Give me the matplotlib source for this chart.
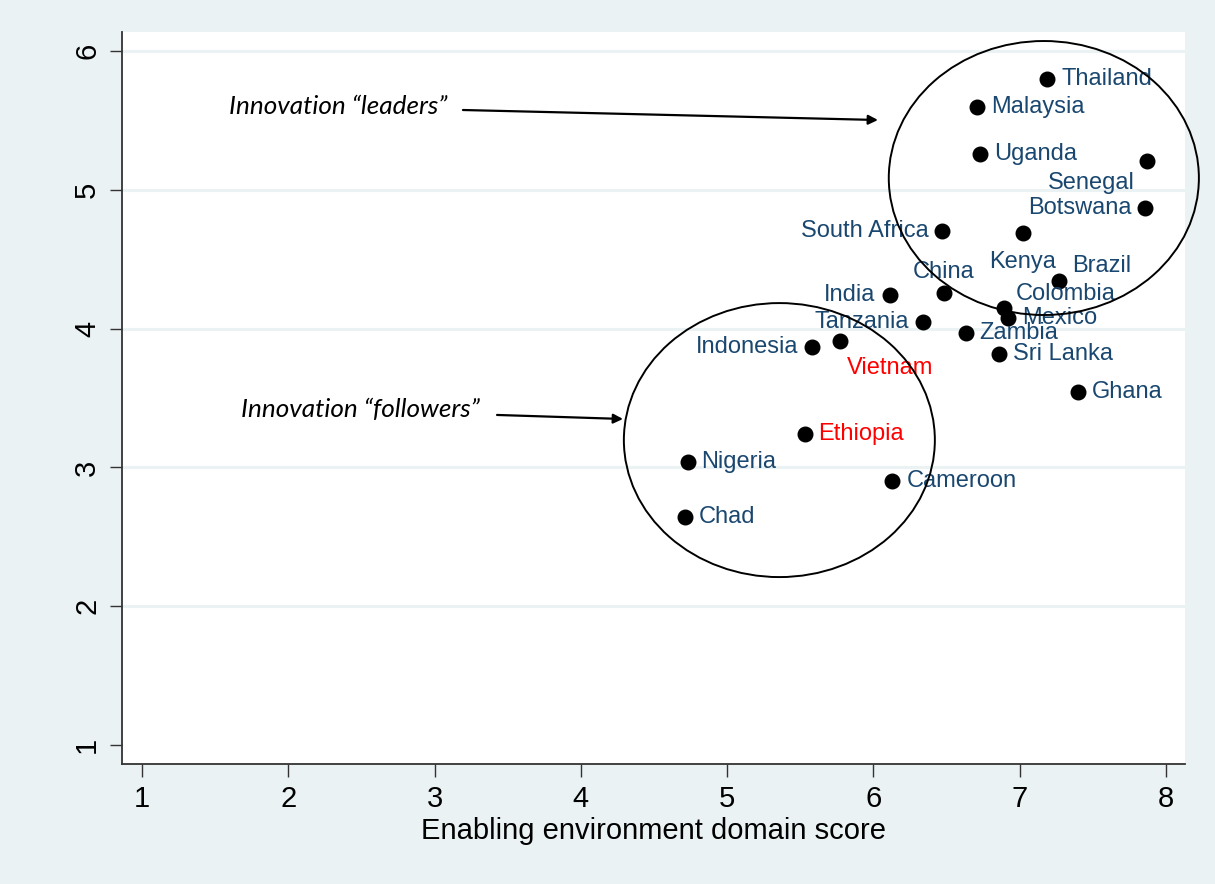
import matplotlib
matplotlib.use("Agg")
import matplotlib.pyplot as plt
from matplotlib.patches import Ellipse

# country scores
countries = ["Thailand", "Malaysia", "Uganda", "Senegal", "Botswana", "South Africa",
             "Kenya", "Brazil", "China", "India", "Colombia", "Mexico", "Tanzania",
             "Zambia", "Indonesia", "Vietnam", "Sri Lanka", "Ghana", "Ethiopia",
             "Nigeria", "Cameroon", "Chad"]
enabling = [7.19, 6.71, 6.73, 7.87, 7.86, 6.47, 7.02, 7.27, 6.48, 6.11, 6.89, 6.92,
            6.34, 6.63, 5.58, 5.77, 6.86, 7.40, 5.53, 4.73, 6.13, 4.71]
innovation = [5.80, 5.60, 5.26, 5.21, 4.87, 4.70, 4.69, 4.34, 4.26, 4.24, 4.15, 4.08,
              4.05, 3.97, 3.87, 3.91, 3.82, 3.54, 3.24, 3.04, 2.90, 2.64]
highlight = ["Vietnam", "Ethiopia"]

xticks = [1, 2, 3, 4, 5, 6, 7, 8]
yticks = [1, 2, 3, 4, 5, 6]

# label placement (offset in points, alignment) like stata's mlabvpos
R = (10, 0, "left")
L = (-10, 0, "right")
label_pos = {c: R for c in countries}
label_pos.update({
    "Senegal": (-8.5, -16, "right"),
    "Botswana": L, "South Africa": L, "India": L, "Tanzania": L, "Indonesia": L,
    "Kenya": (0, -21, "center"),
    "Brazil": (9.5, 11, "left"),
    "China": (0, 14.5, "center"),
    "Colombia": (8.5, 10, "left"),
    "Vietnam": (5, -19, "left"),
})

bg = "#eaf2f3"
navy = "#1a476f"

fig = plt.figure(figsize=(12.15, 8.84), dpi=100, facecolor=bg)
ax = fig.add_axes([0.1004, 0.1357, 0.8749, 0.8281])
ax.set_facecolor("white")

ax.set_xlim(0.863, 8.13)
ax.set_ylim(0.863, 6.137)

for g in yticks[1:]:
    ax.axhline(g, color=bg, lw=2.2, zorder=0)

ax.scatter(enabling, innovation, s=110, color="black", zorder=3)

for name, x, y in zip(countries, enabling, innovation):
    dx, dy, ha = label_pos[name]
    col = "red" if name in highlight else navy
    ax.annotate(name, (x, y), xytext=(dx, dy), textcoords="offset points",
                ha=ha, va="center", fontsize=17, color=col,
                family="Liberation Sans", zorder=4)

# the two groups
ax.add_patch(Ellipse((7.165, 5.085), 2.12, 1.974, fill=False, ec="black",
                     lw=1.4, clip_on=False, zorder=5))
ax.add_patch(Ellipse((5.357, 3.197), 2.126, 1.974, fill=False, ec="black",
                     lw=1.4, clip_on=False, zorder=5))

arrow = dict(arrowstyle="-|>", color="black", lw=1.6, mutation_scale=14,
             shrinkA=0, shrinkB=0)
ax.annotate("", xy=(6.031, 5.503), xytext=(3.194, 5.575), arrowprops=arrow)
ax.annotate("", xy=(4.288, 3.349), xytext=(3.427, 3.378), arrowprops=arrow)
ax.text(3.085, 5.597, "Innovation \u201cleaders\u201d", ha="right", va="center",
        fontsize=18.8, style="italic", family="Lato")
ax.text(3.31, 3.414, "Innovation \u201cfollowers\u201d", ha="right", va="center",
        fontsize=18.8, style="italic", family="Lato")

for s in ["top", "right"]:
    ax.spines[s].set_visible(False)
for s in ["left", "bottom"]:
    ax.spines[s].set_color("#333333")
    ax.spines[s].set_linewidth(1.3)

ax.set_xticks(xticks)
ax.set_yticks(yticks)
ax.tick_params(axis="both", length=9, width=1, color="#333333", labelsize=21, pad=6)
for lab in ax.get_yticklabels():
    lab.set_rotation(90)
    lab.set_va("center")
for lab in ax.get_xticklabels() + ax.get_yticklabels():
    lab.set_family("Liberation Sans")

ax.set_xlabel("Enabling environment domain score", fontsize=21,
              family="Liberation Sans", labelpad=3)

fig.savefig("out.png", dpi=100, facecolor=bg)
